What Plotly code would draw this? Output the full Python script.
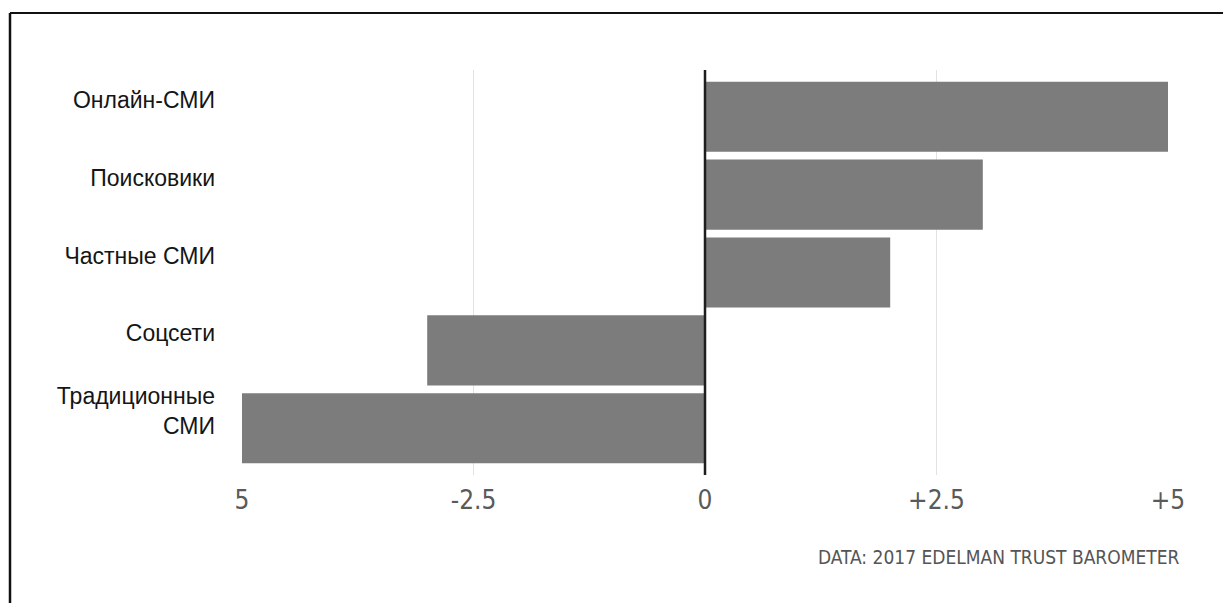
import plotly.graph_objects as go

categories = ["Онлайн-СМИ", "Поисковики", "Частные СМИ", "Соцсети", "Традиционные<br>СМИ"]
values = [5, 3, 2, -3, -5]
x_tickvals = [-5, -2.5, 0, 2.5, 5]
x_ticktext = ["5", "-2.5", "0", "+2.5", "+5"]
caption = "DATA: 2017 EDELMAN TRUST BAROMETER"

W, H = 1223, 603
L, R, T, B = 242, 55, 70, 128
pw, ph = W - L - R, H - T - B

def px_x(p):
    return (p - L) / pw

def px_y(p):
    return (H - B - p) / ph

cond = "DejaVu Sans Condensed, Liberation Sans Narrow, sans-serif"

fig = go.Figure()
fig.add_trace(go.Bar(
    x=values, y=categories, orientation="h",
    marker=dict(color="#7c7c7c", line=dict(width=0)),
    hoverinfo="skip",
))

fig.update_layout(
    width=W, height=H,
    margin=dict(l=L, r=R, t=T, b=B, pad=0),
    paper_bgcolor="white", plot_bgcolor="white",
    bargap=0.1, showlegend=False,
    xaxis=dict(
        range=[-5, 5], tickvals=x_tickvals, ticktext=x_ticktext,
        showgrid=True, gridcolor="#e2e2e2", gridwidth=1,
        zeroline=False, showline=False, ticks="",
        tickfont=dict(family=cond, size=26, color="#5a5a5a"),
        ticklabelstandoff=7,
    ),
    yaxis=dict(
        type="category", range=[4.6, -0.6],
        showgrid=False, zeroline=False, showline=False, ticks="",
        tickfont=dict(family="Liberation Sans, Arial, sans-serif", size=23, color="#151515"),
        ticklabelstandoff=26, ticklabelshift=17,
    ),
    shapes=[
        dict(type="line", xref="x", yref="paper", x0=0, x1=0, y0=0, y1=1,
             line=dict(color="#1e1e1e", width=2.5), layer="above"),
        dict(type="line", xref="paper", yref="paper", x0=px_x(10), x1=px_x(W + 5),
             y0=px_y(13), y1=px_y(13), line=dict(color="#111111", width=2)),
        dict(type="line", xref="paper", yref="paper", x0=px_x(10), x1=px_x(10),
             y0=px_y(13), y1=px_y(H + 5), line=dict(color="#111111", width=2.5)),
    ],
    annotations=[
        dict(text=caption, xref="paper", yref="paper", x=px_x(1181), y=px_y(557),
             xanchor="right", yanchor="middle", showarrow=False,
             font=dict(family=cond, size=19, color="#555555")),
    ],
)

fig.write_html("out.html")
